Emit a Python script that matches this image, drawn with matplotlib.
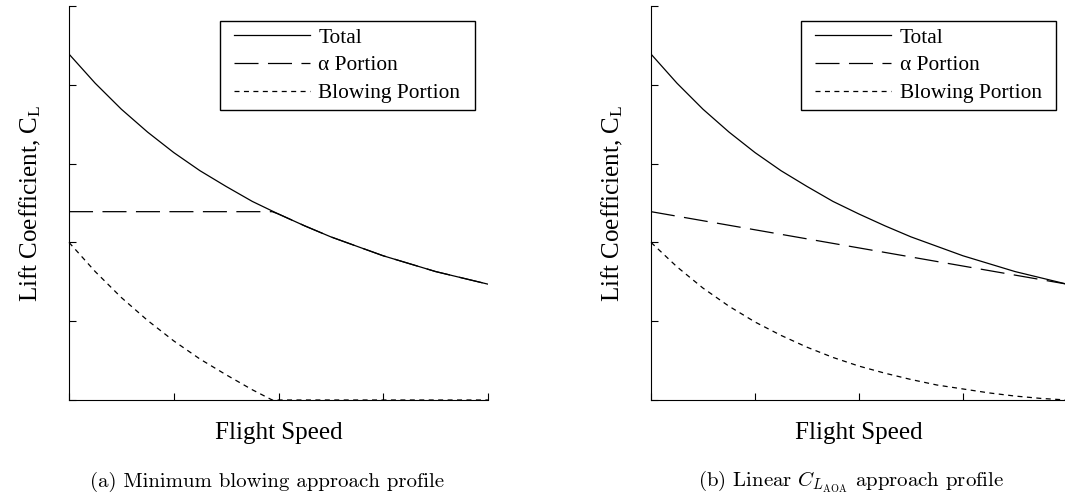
import matplotlib
matplotlib.use('Agg')
import matplotlib.pyplot as plt

# flight speed grid (arbitrary units, ticks 0..4) and lift coefficients
speed = [0.0, 0.25, 0.5, 0.75, 1.0, 1.25, 1.5, 1.75, 2.0, 2.25, 2.5, 2.75, 3.0, 3.25, 3.5, 3.75, 4.0]
total = [4.39, 4.02, 3.69, 3.40, 3.14, 2.91, 2.71, 2.52, 2.36, 2.21, 2.07, 1.95, 1.83, 1.73, 1.63, 1.55, 1.47]

# (a) minimum blowing: alpha held until it meets the total curve
speed_a_alpha = [0.0, 1.94, 2.0, 2.25, 2.5, 2.75, 3.0, 3.25, 3.5, 3.75, 4.0]
alpha_a = [2.39, 2.39, 2.36, 2.21, 2.07, 1.95, 1.83, 1.73, 1.63, 1.55, 1.47]
speed_a_blow = [0.0, 0.25, 0.5, 0.75, 1.0, 1.25, 1.5, 1.75, 1.94, 4.0]
blow_a = [2.00, 1.63, 1.30, 1.01, 0.75, 0.52, 0.32, 0.13, 0.0, 0.0]

# (b) linear alpha
speed_b_alpha = [0.0, 4.0]
alpha_b = [2.39, 1.47]
blow_b = [2.00, 1.69, 1.42, 1.19, 0.99, 0.82, 0.67, 0.54, 0.43, 0.34, 0.26, 0.19, 0.14, 0.09, 0.05, 0.02, 0.0]

labels = ['Total', '\u03b1 Portion', 'Blowing Portion']
captions = ['(a) Minimum blowing approach profile',
            r'(b) Linear $C_{L_{\rm AOA}}$ approach profile']

plt.rcParams['font.family'] = ['Liberation Serif', 'DejaVu Serif']
plt.rcParams['mathtext.fontset'] = 'custom'
plt.rcParams['mathtext.rm'] = 'Liberation Serif'
plt.rcParams['lines.scale_dashes'] = False

W, H = 1065, 495
fig = plt.figure(figsize=(W / 100, H / 100), dpi=100)
ax_a = fig.add_axes([69 / W, 95 / H, 419 / W, 394 / H])
ax_b = fig.add_axes([651 / W, 95 / H, 416 / W, 394 / H])

dash_alpha = (0, (17.3, 6.8))
dash_blow = (0, (3.6, 3.2))
lw = 0.9


def style(ax, legend_x):
    ax.set_xlim(0, 4)
    ax.set_ylim(0, 5)
    ax.set_xticks(range(5))
    ax.set_yticks(range(6))
    ax.tick_params(direction='in', length=5, width=0.8,
                   labelbottom=False, labelleft=False)
    ax.spines['top'].set_visible(False)
    ax.spines['right'].set_visible(False)
    ax.spines['left'].set_linewidth(0.8)
    ax.spines['bottom'].set_linewidth(0.8)
    ax.set_xlabel('Flight Speed', fontsize=18, labelpad=16)
    ax.set_ylabel(r'Lift Coefficient, $\mathregular{C_L}$', fontsize=18, labelpad=19)
    leg = ax.legend(loc='upper right', bbox_to_anchor=(legend_x, 0.9625),
                    borderaxespad=0, fancybox=False, edgecolor='black',
                    framealpha=1, fontsize=15.4, handlelength=3.55,
                    handletextpad=0.4, borderpad=0.33, labelspacing=0.36)
    frame = leg.get_frame()
    frame.set_linewidth(1.0)
    # wider padding left/right than top/bottom, like the original box
    frame.set_boxstyle('square', pad=0.33)
    frame.set_mutation_aspect(0.01)


ax_a.plot(speed, total, color='black', lw=lw, label=labels[0])
ax_a.plot(speed_a_alpha, alpha_a, color='black', lw=lw, linestyle=dash_alpha, label=labels[1])
ax_a.plot(speed_a_blow, blow_a, color='black', lw=lw, linestyle=dash_blow, label=labels[2], clip_on=False)
style(ax_a, 0.951)

ax_b.plot(speed, total, color='black', lw=lw, label=labels[0])
ax_b.plot(speed_b_alpha, alpha_b, color='black', lw=lw, linestyle=dash_alpha, label=labels[1])
ax_b.plot(speed, blow_b, color='black', lw=lw, linestyle=dash_blow, label=labels[2], clip_on=False)
style(ax_b, 0.9567)

fig.text(267 / W, (H - 487) / H, captions[0], ha='center', va='baseline',
         family='cmr10', fontsize=15)
fig.text(851 / W, (H - 487) / H, captions[1], ha='center', va='baseline',
         family='cmr10', fontsize=15, math_fontfamily='cm')

fig.savefig('out.png', dpi=100)
